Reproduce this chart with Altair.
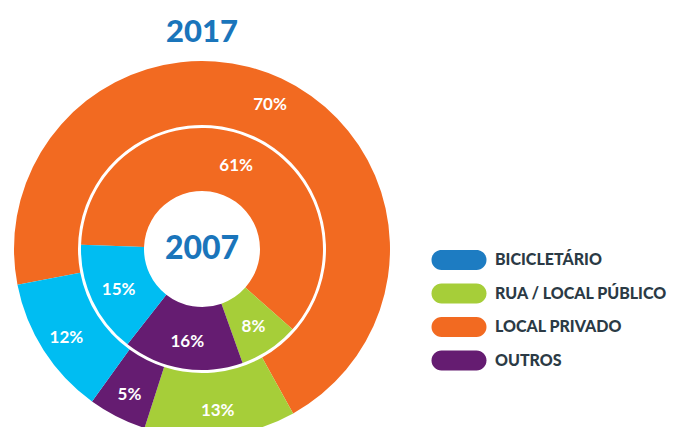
import altair as alt
import pandas as pd
import math

categories = ["BICICLETÁRIO", "RUA / LOCAL PÚBLICO", "LOCAL PRIVADO", "OUTROS"]
legend_colors = ["#1d7cc2", "#a6ce39", "#f26a21", "#651c71"]

# stacking order (clockwise): orange, green, purple, cyan
ring_order = ["LOCAL PRIVADO", "RUA / LOCAL PÚBLICO", "OUTROS", "BICICLETÁRIO"]
ring_colors = ["#f26a21", "#a6ce39", "#651c71", "#00bdf2"]
values_2017 = [70, 13, 5, 12]
values_2007 = [61, 8, 16, 15]

rows = []
for i, c in enumerate(ring_order):
    rows.append({"year": "2017", "category": c, "value": values_2017[i], "ord": i,
                 "label": f"{values_2017[i]}%"})
    rows.append({"year": "2007", "category": c, "value": values_2007[i], "ord": i,
                 "label": f"{values_2007[i]}%"})
df = pd.DataFrame(rows)
outer_df = df[df.year == "2017"]
inner_df = df[df.year == "2007"]
legend_df = pd.DataFrame({"tipo": categories})

outer_start = math.radians(259)
inner_start = math.radians(272)

color = alt.Color("category:N", scale=alt.Scale(domain=ring_order, range=ring_colors), legend=None)

def ring(data, start, r1, r2, rl):
    theta = alt.Theta("value:Q", stack=True,
                      scale=alt.Scale(range=[start, start + 2 * math.pi]))
    arcs = alt.Chart(data).mark_arc(radius=r2, radius2=r1).encode(
        theta=theta, color=color, order=alt.Order("ord:Q"))
    txt = alt.Chart(data).mark_text(radius=rl, color="white", font="Lato",
                                    fontWeight="bold", fontSize=17, dy=2).encode(
        theta=theta, text="label:N", order=alt.Order("ord:Q"))
    return arcs, txt

oa, ot = ring(outer_df, outer_start, 124, 188, 161)
ia, it = ring(inner_df, inner_start, 58, 121, 92)

center = alt.Chart(pd.DataFrame({"year": ["2007"]})).mark_text(
    font="Lato", fontWeight=900, fontSize=32, color="#1a75bb", baseline="middle"
).encode(text="year:N")

legend_layer = alt.Chart(legend_df).mark_point(filled=True, opacity=0).encode(
    fill=alt.Fill("tipo:N", scale=alt.Scale(domain=categories, range=legend_colors),
                  legend=alt.Legend(
                      title=None, orient="none", legendX=417, legendY=171,
                      symbolType="M-1.75,-1H1.75A1,1,0,0,1,1.75,1H-1.75A1,1,0,0,1,-1.75,-1Z",
                      symbolSize=400, symbolStrokeWidth=0, symbolOpacity=1,
                      labelOffset=26, rowPadding=13.5,
                      labelFont="Lato", labelFontWeight=900, labelFontSize=16,
                      labelColor="#2b3a45", labelLimit=300)))

chart = alt.layer(oa, ia, ot, it, center, legend_layer).resolve_scale(
    theta="independent"
).properties(
    width=340, height=340,
    autosize=alt.AutoSizeParams(type="none"),
    padding={"left": 24, "top": 71, "right": 308, "bottom": 8},
    title=alt.Title("2017", font="Lato", fontWeight=900, fontSize=31,
                    color="#1a75bb", anchor="middle", offset=12),
).configure_view(stroke=None)

chart.save("out.html", embed_options={"renderer": "svg", "actions": False})
